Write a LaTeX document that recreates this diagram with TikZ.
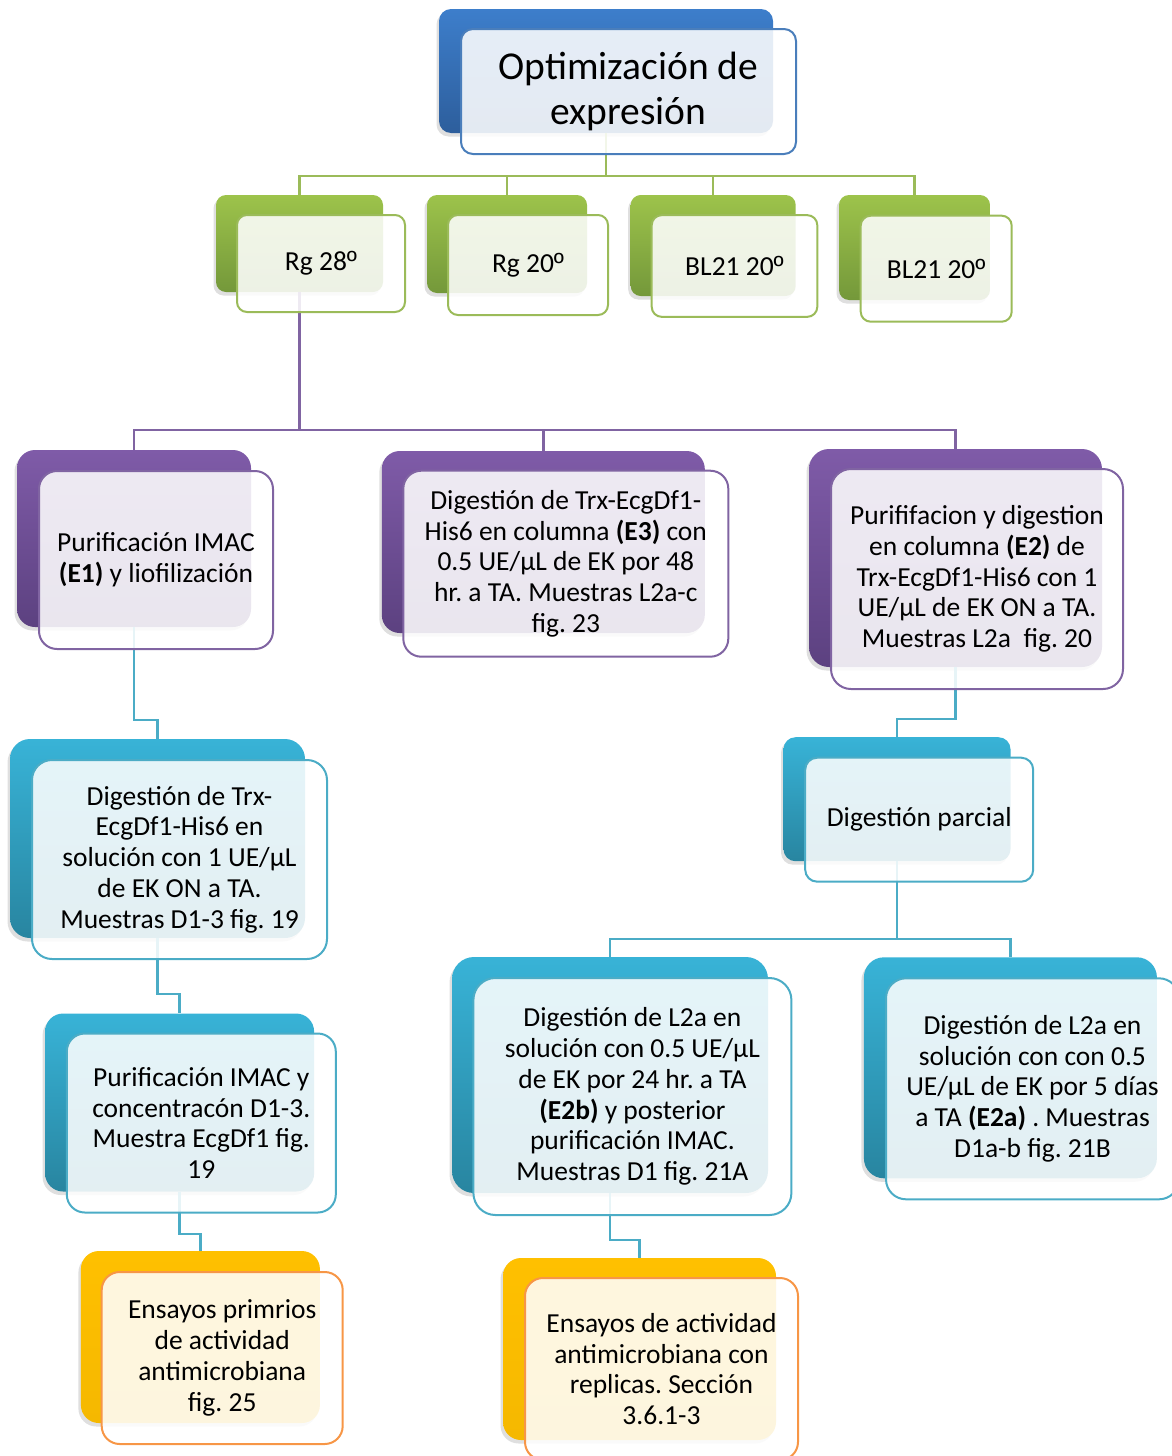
\documentclass[tikz,border=0pt]{standalone}
\usepackage{fontspec}
\setmainfont{Carlito}
\newfontfamily\ordfont{Liberation Sans}
\newcommand{\ordo}{{\ordfont º}}
\usetikzlibrary{shadows}
\definecolor{blueT}{HTML}{3D7ECB}
\definecolor{blueB}{HTML}{2D5E9C}
\definecolor{blueL}{HTML}{4A7EBB}
\definecolor{greenT}{HTML}{9DC34B}
\definecolor{greenB}{HTML}{74983A}
\definecolor{greenL}{HTML}{9BBB59}
\definecolor{purpT}{HTML}{7F5BA8}
\definecolor{purpB}{HTML}{5C4180}
\definecolor{purpL}{HTML}{8064A2}
\definecolor{cyanT}{HTML}{38B3D7}
\definecolor{cyanB}{HTML}{2885A0}
\definecolor{cyanL}{HTML}{4BACC6}
\definecolor{goldT}{HTML}{FFC000}
\definecolor{goldB}{HTML}{F5B800}
\definecolor{orangeL}{HTML}{F79646}
\tikzset{
  bk/.style={draw=none, inner sep=0pt,
    drop shadow={shadow xshift=-2.5pt, shadow yshift=-3.5pt, opacity=0.25}},
  fr/.style={fill=white, fill opacity=0.87, text opacity=1, line width=2pt,
    align=center, inner sep=0pt, text=black,
    font=\fontsize{27.5}{30.8}\selectfont\frenchspacing},
  conn/.style={line width=2.5pt},
}
\begin{document}
\begin{tikzpicture}[x=1pt,y=-1pt]
\useasboundingbox (0,0) rectangle (1171,1456);

% ---------- back boxes ----------
\node[bk, top color=blueT, bottom color=blueB, minimum width=334pt, minimum height=124pt, rounded corners=12pt] (rootb) at (606,71) {};

\node[bk, top color=greenT, bottom color=greenB, minimum width=167pt, minimum height=97pt, rounded corners=10pt] (g1b) at (299.5,243.5) {};
\node[bk, top color=greenT, bottom color=greenB, minimum width=160pt, minimum height=98pt, rounded corners=10pt] (g2b) at (507,244) {};
\node[bk, top color=greenT, bottom color=greenB, minimum width=165pt, minimum height=101pt, rounded corners=10pt] (g3b) at (713.2,245.5) {};
\node[bk, top color=greenT, bottom color=greenB, minimum width=151pt, minimum height=105pt, rounded corners=10pt] (g4b) at (914.5,247.5) {};

\node[bk, top color=purpT, bottom color=purpB, minimum width=234pt, minimum height=177pt, rounded corners=18pt] (p1b) at (134,538.5) {};
\node[bk, top color=purpT, bottom color=purpB, minimum width=323pt, minimum height=182pt, rounded corners=18pt] (p2b) at (543.3,542) {};
\node[bk, top color=purpT, bottom color=purpB, minimum width=293pt, minimum height=218pt, rounded corners=20pt] (p3b) at (955.5,558) {};

\node[bk, top color=cyanT, bottom color=cyanB, minimum width=295pt, minimum height=199pt, rounded corners=20pt] (b1b) at (157.5,838.5) {};
\node[bk, top color=cyanT, bottom color=cyanB, minimum width=269pt, minimum height=178pt, rounded corners=18pt] (b2b) at (179.6,1102.5) {};
\node[bk, top color=cyanT, bottom color=cyanB, minimum width=227pt, minimum height=124pt, rounded corners=12pt] (b3b) at (897,799.2) {};
\node[bk, top color=cyanT, bottom color=cyanB, minimum width=316pt, minimum height=236pt, rounded corners=22pt] (b4b) at (610,1075) {};
\node[bk, top color=cyanT, bottom color=cyanB, minimum width=293pt, minimum height=221pt, rounded corners=20pt] (b5b) at (1010.4,1067.8) {};

\node[bk, top color=goldT, bottom color=goldB, minimum width=239pt, minimum height=172pt, rounded corners=18pt] (y1b) at (200.4,1337) {};
\node[bk, top color=goldT, bottom color=goldB, minimum width=273pt, minimum height=182pt, rounded corners=18pt] (y2b) at (639.5,1349) {};

% ---------- connectors ----------
\draw[conn, greenL] (rootb.south) -- (rootb.south |- 0,176) -| (g1b.north);
\draw[conn, greenL] (rootb.south) -- (rootb.south |- 0,176) -| (g2b.north);
\draw[conn, greenL] (rootb.south) -- (rootb.south |- 0,176) -| (g3b.north);
\draw[conn, greenL] (rootb.south) -- (rootb.south |- 0,176) -| (g4b.north);

\draw[conn, purpL] (g1b.south) -- (g1b.south |- 0,430) -| (p1b.north);
\draw[conn, purpL] (g1b.south) -- (g1b.south |- 0,430) -| (p2b.north);
\draw[conn, purpL] (g1b.south) -- (g1b.south |- 0,430) -| (p3b.north);

\draw[conn, cyanL] (p1b.south) -- (p1b.south |- 0,720) -| (b1b.north);
\draw[conn, cyanL] (b1b.south) -- (b1b.south |- 0,994) -| (b2b.north);
\draw[conn, cyanL] (b2b.south) -- (b2b.south |- 0,1234) -| (y1b.north);
\draw[conn, cyanL] (p3b.south) -- (p3b.south |- 0,719) -| (b3b.north);
\draw[conn, cyanL] (b3b.south) -- (b3b.south |- 0,939) -| (b4b.north);
\draw[conn, cyanL] (b3b.south) -- (b3b.south |- 0,939) -| (b5b.north);
\draw[conn, cyanL] (b4b.south) -- (b4b.south |- 0,1240) -| (y2b.north);

% ---------- front boxes with text ----------
\node[fr, draw=blueL, minimum width=335pt, minimum height=125pt, rounded corners=12pt,
  font=\fontsize{39.5}{45}\selectfont] (rootf) at (628.5,91.5) {Optimización de\\expresión};

\node[fr, draw=greenL, minimum width=168pt, minimum height=97pt, rounded corners=10pt] (g1f) at (321,263.5) {Rg 28\ordo};
\node[fr, draw=greenL, minimum width=160pt, minimum height=100pt, rounded corners=10pt] (g2f) at (528,265) {Rg 20\ordo};
\node[fr, draw=greenL, minimum width=165.6pt, minimum height=101.7pt, rounded corners=10pt] (g3f) at (734.5,266) {BL21 20\ordo};
\node[fr, draw=greenL, minimum width=151pt, minimum height=106pt, rounded corners=10pt] (g4f) at (936.2,268.7) {BL21 20\ordo};

\node[fr, draw=purpL, minimum width=234pt, minimum height=178pt, rounded corners=18pt] (p1f) at (156,560)
  {Purificación IMAC\\\textbf{(E1)} y liofilización};
\node[fr, draw=purpL, minimum width=325pt, minimum height=186pt, rounded corners=18pt] (p2f) at (565.8,563.7)
  {Digestión de Trx-EcgDf1-\\His6 en columna \textbf{(E3)} con\\0.5 UE/µL de EK por 48\\hr. a TA. Muestras L2a-c\\fig. 23};
\node[fr, draw=purpL, minimum width=292pt, minimum height=220pt, rounded corners=20pt] (p3f) at (977,579)
  {Purififacion y digestion\\en columna \textbf{(E2)} de\\Trx-EcgDf1-His6 con 1\\UE/µL de EK ON a TA.\\Muestras L2a\ \ fig. 20};

\node[fr, draw=cyanL, minimum width=295pt, minimum height=199pt, rounded corners=20pt] (b1f) at (179.5,859.5)
  {Digestión de Trx-\\EcgDf1-His6 en\\solución con 1 UE/µL\\de EK ON a TA.\\Muestras D1-3 fig. 19};
\node[fr, draw=cyanL, minimum width=269pt, minimum height=179pt, rounded corners=18pt] (b2f) at (201.3,1123)
  {Purificación IMAC y\\concentracón D1-3.\\Muestra EcgDf1 fig.\\19};
\node[fr, draw=cyanL, minimum width=228pt, minimum height=124pt, rounded corners=12pt] (b3f) at (919.2,819.7)
  {Digestión parcial};
\node[fr, draw=cyanL, minimum width=318pt, minimum height=237pt, rounded corners=22pt] (b4f) at (632.4,1096.5)
  {Digestión de L2a en\\solución con 0.5 UE/µL\\de EK por 24 hr. a TA\\\textbf{(E2b)} y posterior\\purificación IMAC.\\Muestras D1 fig. 21A};
\node[fr, draw=cyanL, minimum width=293pt, minimum height=221pt, rounded corners=20pt] (b5f) at (1032.5,1088.8)
  {Digestión de L2a en\\solución con con 0.5\\UE/µL de EK por 5 días\\a TA \textbf{(E2a)} . Muestras\\D1a-b fig. 21B};

\node[fr, draw=orangeL, minimum width=241pt, minimum height=172pt, rounded corners=18pt] (y1f) at (222.2,1358)
  {Ensayos primrios\\de actividad\\antimicrobiana\\fig. 25};
\node[fr, draw=orangeL, minimum width=273pt, minimum height=182pt, rounded corners=18pt] (y2f) at (661.5,1369)
  {Ensayos de actividad\\antimicrobiana con\\replicas. Sección\\3.6.1-3};
\end{tikzpicture}
\end{document}
